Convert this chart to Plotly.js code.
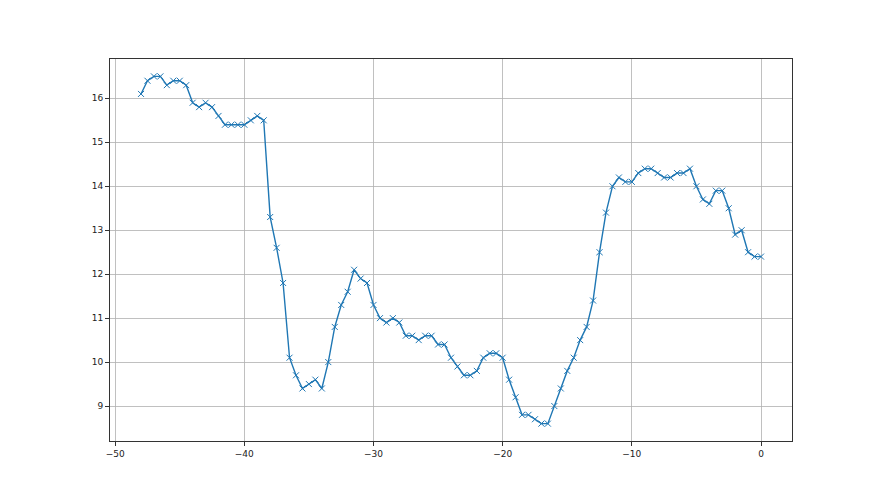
<!DOCTYPE html>
<html>
<head>
<meta charset="utf-8">
<script src="https://cdn.plot.ly/plotly-3.0.1.min.js"></script>
<style>html,body{margin:0;padding:0;background:#fff;}#chart{width:880px;height:495px;}</style>
</head>
<body>
<div id="chart"></div>
<script>
const xValues = [-48,-47.5,-47,-46.5,-46,-45.5,-45,-44.5,-44,-43.5,-43,-42.5,-42,-41.5,-41,-40.5,-40,-39.5,-39,-38.5,
  -38,-37.5,-37,-36.5,-36,-35.5,-35,-34.5,-34,-33.5,-33,-32.5,-32,-31.5,-31,-30.5,-30,-29.5,-29,-28.5,
  -28,-27.5,-27,-26.5,-26,-25.5,-25,-24.5,-24,-23.5,-23,-22.5,-22,-21.5,-21,-20.5,-20,-19.5,-19,-18.5,
  -18,-17.5,-17,-16.5,-16,-15.5,-15,-14.5,-14,-13.5,-13,-12.5,-12,-11.5,-11,-10.5,-10,-9.5,-9,-8.5,
  -8,-7.5,-7,-6.5,-6,-5.5,-5,-4.5,-4,-3.5,-3,-2.5,-2,-1.5,-1,-0.5,0];
const yValues = [16.1,16.4,16.5,16.5,16.3,16.4,16.4,16.3,15.9,15.8,15.9,15.8,15.6,15.4,15.4,15.4,15.4,15.5,15.6,15.5,
  13.3,12.6,11.8,10.1,9.7,9.4,9.5,9.6,9.4,10.0,10.8,11.3,11.6,12.1,11.9,11.8,11.3,11.0,10.9,11.0,
  10.9,10.6,10.6,10.5,10.6,10.6,10.4,10.4,10.1,9.9,9.7,9.7,9.8,10.1,10.2,10.2,10.1,9.6,9.2,8.8,
  8.8,8.7,8.6,8.6,9.0,9.4,9.8,10.1,10.5,10.8,11.4,12.5,13.4,14.0,14.2,14.1,14.1,14.3,14.4,14.4,
  14.3,14.2,14.2,14.3,14.3,14.4,14.0,13.7,13.6,13.9,13.9,13.5,12.9,13.0,12.5,12.4,12.4];

const trace = {
  x: xValues, y: yValues, type: 'scatter', mode: 'lines+markers',
  line: {color: '#1f77b4', width: 1.4},
  marker: {symbol: 'x-thin', size: 6, color: '#1f77b4', line: {color: '#1f77b4', width: 1}}
};
const axisCommon = {
  showgrid: true, gridcolor: '#b0b0b0', gridwidth: 0.8,
  showline: true, mirror: true, linecolor: '#333', linewidth: 1,
  ticks: 'outside', ticklen: 4, tickcolor: '#333', tickwidth: 1,
  zeroline: false, tickfont: {family: 'DejaVu Sans', size: 9, color: '#222'}
};
const layout = {
  width: 880, height: 495,
  margin: {l: 110, r: 88, t: 59, b: 54},
  paper_bgcolor: '#fff', plot_bgcolor: '#fff',
  showlegend: false,
  xaxis: Object.assign({}, axisCommon, {range: [-50.4, 2.4], dtick: 10, tick0: 0}),
  yaxis: Object.assign({}, axisCommon, {range: [8.205, 16.895], dtick: 1, tick0: 0})
};
Plotly.newPlot('chart', [trace], layout, {displayModeBar: false, staticPlot: true});
</script>
</body>
</html>
